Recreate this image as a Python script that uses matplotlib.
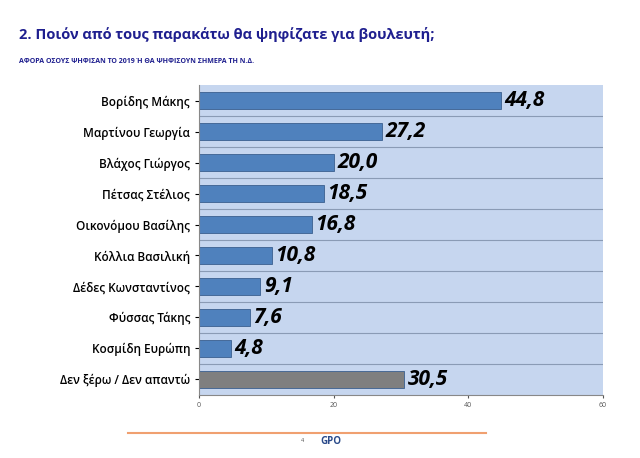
import matplotlib
matplotlib.use("Agg")
import matplotlib.pyplot as plt

names = ["Βορίδης Μάκης", "Μαρτίνου Γεωργία", "Βλάχος Γιώργος", "Πέτσας Στέλιος",
         "Οικονόμου Βασίλης", "Κόλλια Βασιλική", "Δέδες Κωνσταντίνος", "Φύσσας Τάκης",
         "Κοσμίδη Ευρώπη", "Δεν ξέρω / Δεν απαντώ"]
values = [44.8, 27.2, 20.0, 18.5, 16.8, 10.8, 9.1, 7.6, 4.8, 30.5]
labels = ["44,8", "27,2", "20,0", "18,5", "16,8", "10,8", "9,1", "7,6", "4,8", "30,5"]
xticks = [0, 20, 40, 60]

plt.rcParams['font.family'] = ['Open Sans', 'DejaVu Sans']
fig = plt.figure(figsize=(6.4, 4.58), dpi=100)
ax = fig.add_axes([0.311, 0.138, 0.631, 0.676])
ax.set_facecolor("#c6d6ef")
y = list(range(len(names)))
colors = ["#4f81bd"] * 9 + ["#7f7f7f"]
ax.barh(y, values, height=0.55, color=colors, edgecolor="#3a5f8f", linewidth=0.6)
for yi, v, l in zip(y, values, labels):
    ax.text(v + 0.5, yi, l, va="center", ha="left", fontsize=15, fontweight="bold",
            fontstyle="italic", color="black")
ax.set_ylim(len(names) - 0.5, -0.5)
ax.set_xlim(0, 60)
ax.set_xticks(xticks)
ax.set_xticklabels([str(t) for t in xticks], fontsize=5)
ax.set_yticks(y)
ax.set_yticklabels(names, fontsize=8.5, fontweight="semibold")
for yy in [i + 0.5 for i in range(len(names) - 1)]:
    ax.axhline(yy, color="#8a9bb5", linewidth=0.8)
for s in ["top", "right"]:
    ax.spines[s].set_visible(False)
ax.spines["left"].set_color("#888888")
ax.spines["bottom"].set_color("#888888")
ax.tick_params(axis="y", length=3)
ax.tick_params(axis="x", length=2, colors="#555555")

fig.text(0.03, 0.915, "2. Ποιόν από τους παρακάτω θα ψηφίζατε για βουλευτή;",
         fontsize=10.5, color="#1f1f8f", fontweight="bold")
fig.text(0.03, 0.862, "ΑΦΟΡΑ ΟΣΟΥΣ ΨΗΦΙΣΑΝ ΤΟ 2019 Ή ΘΑ ΨΗΦΙΣΟΥΝ ΣΗΜΕΡΑ ΤΗ Ν.Δ.",
         fontsize=5, color="#1f1f8f", fontweight="bold")
fig.add_artist(plt.Line2D([0.2, 0.76], [0.055, 0.055], color="#f0a070", linewidth=1.5))
fig.text(0.47, 0.035, "4", fontsize=4, color="#555555")
fig.text(0.5, 0.03, "GPO", fontsize=7, color="#2a4a8a", fontweight="bold")
fig.savefig("out.png", dpi=100)
